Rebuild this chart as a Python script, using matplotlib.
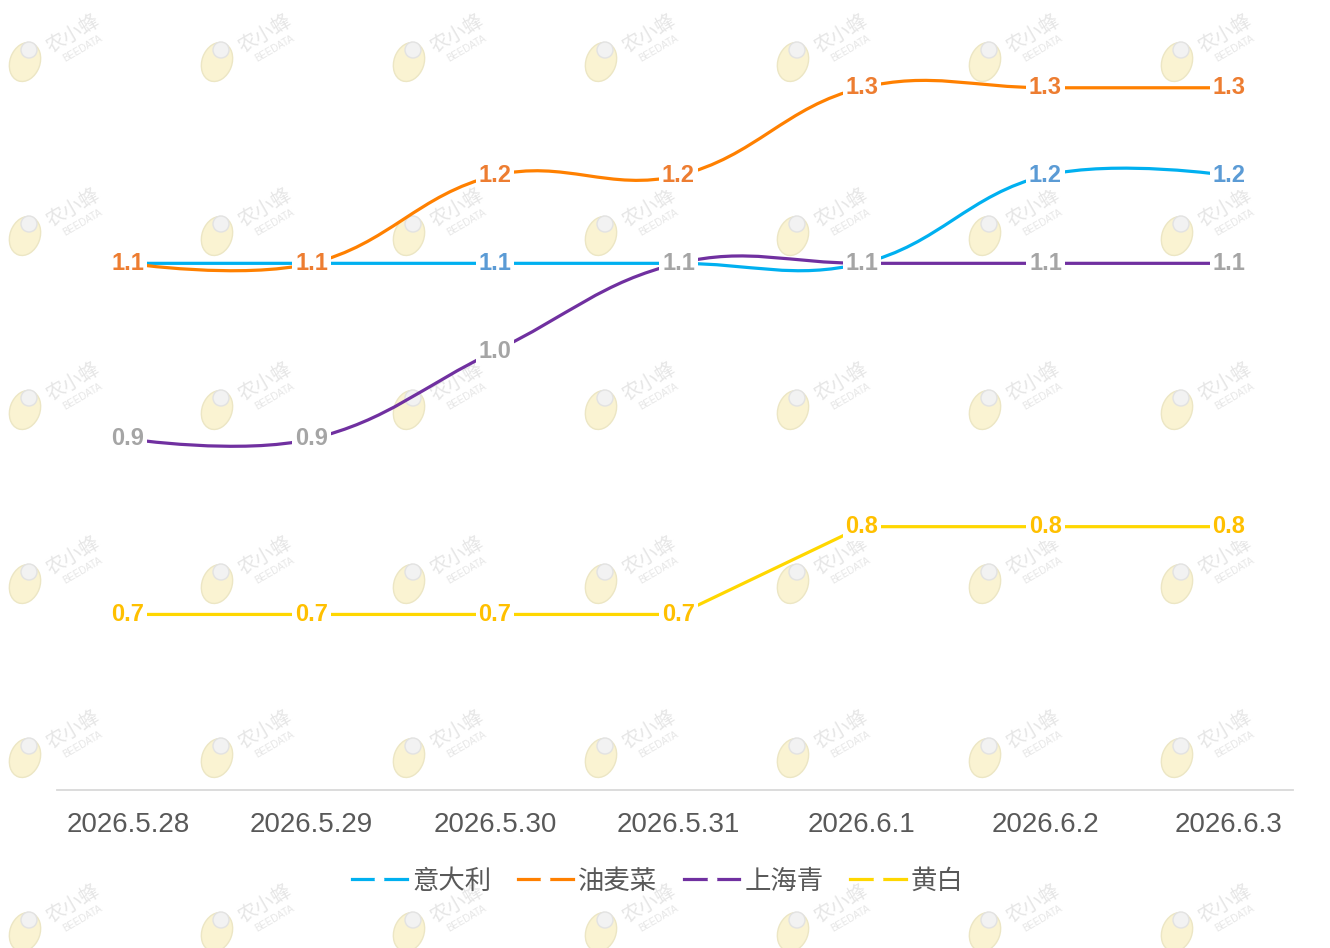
import matplotlib
matplotlib.use("Agg")
import matplotlib.pyplot as plt
from matplotlib.lines import Line2D
from matplotlib.path import Path
from matplotlib.patches import PathPatch, Ellipse
import numpy as np

plt.rcParams["font.family"] = ["Liberation Sans", "Noto Sans CJK SC", "DejaVu Sans"]

dates = ["2026.5.28", "2026.5.29", "2026.5.30", "2026.5.31", "2026.6.1", "2026.6.2", "2026.6.3"]
series_names = ["意大利", "油麦菜", "上海青", "黄白"]
yidali = [1.1, 1.1, 1.1, 1.1, 1.1, 1.2, 1.2]
youmaicai = [1.1, 1.1, 1.2, 1.2, 1.3, 1.3, 1.3]
shanghaiqing = [0.9, 0.9, 1.0, 1.1, 1.1, 1.1, 1.1]
huangbai = [0.7, 0.7, 0.7, 0.7, 0.8, 0.8, 0.8]

line_colors = ["#00b0f0", "#ff8000", "#7030a0", "#ffd700"]
label_colors = ["#5b9bd5", "#ed7d31", "#a5a5a5", "#ffc000"]
smoothness = [0.4, 0.4, 0.4, 0.0]   # 黄白 is drawn as straight segments

# pixel scale of the original chart, used for the echarts-like smoothing
SX, SY = 183.5, 877.5


def smooth_path(values, smooth=0.5):
    pts = np.array([[i * SX, v * SY] for i, v in enumerate(values)])
    n = len(pts)
    verts = [pts[0]]
    codes = [Path.MOVETO]
    cp0 = pts[0]
    for i in range(1, n):
        p = pts[i]
        if i == n - 1:
            cp1 = p
            nxt_cp0 = p
        else:
            prev, nxt = pts[i - 1], pts[i + 1]
            v = nxt - prev
            d0 = np.hypot(*(p - prev))
            d1 = np.hypot(*(nxt - p))
            r = d1 / (d0 + d1)
            cp1 = p - v * smooth * (1 - r)
            nxt_cp0 = p + v * smooth * r
        verts += [cp0, cp1, p]
        codes += [Path.CURVE4] * 3
        cp0 = nxt_cp0
    verts = np.array(verts) / np.array([SX, SY])
    return Path(verts, codes)


fig = plt.figure(figsize=(13.3, 9.48), dpi=100)

# faint watermark layer
bg = fig.add_axes([0, 0, 1, 1], zorder=0)
bg.set_xlim(0, 1330)
bg.set_ylim(948, 0)
bg.axis("off")
for row in range(6):
    for col in range(7):
        x0 = 25 + col * 192
        y0 = 58 + row * 174
        bg.add_patch(Ellipse((x0, y0 + 4), 30, 40, angle=20, facecolor="#faf3d2",
                             edgecolor="#ece6c4", lw=1))
        bg.add_patch(Ellipse((x0 + 4, y0 - 8), 16, 16, facecolor="#f2f2f2",
                             edgecolor="#e2e2e2", lw=1))
        bg.text(x0 + 48, y0 - 24, "农小蜂", fontsize=14, color="#e6e6e6",
                rotation=30, ha="center", va="center")
        bg.text(x0 + 58, y0 - 10, "BEEDATA", fontsize=7, color="#e6e6e6",
                rotation=30, ha="center", va="center")

ax = fig.add_axes([57 / 1330, 1 - 790 / 948, (1293 - 57) / 1330, 790 / 948], zorder=1)
ax.patch.set_alpha(0)

all_series = [yidali, youmaicai, shanghaiqing, huangbai]
for vals, c, sm in zip(all_series, line_colors, smoothness):
    ax.add_patch(PathPatch(smooth_path(vals, sm), facecolor="none", edgecolor=c,
                           lw=2.3, capstyle="butt", zorder=2))

for k, (vals, lc) in enumerate(zip(all_series, label_colors)):
    for i, v in enumerate(vals):
        ax.text(i, v, f"{v:.1f}", color=lc, fontsize=17, fontweight="bold",
                ha="center", va="center", zorder=3 + k,
                bbox=dict(boxstyle="square,pad=0.12", facecolor="white",
                          edgecolor="none"))

ax.set_xlim(-0.387, 6.349)
ax.set_ylim(0.5, 1.4)
ax.set_yticks([])
ax.set_xticks(range(len(dates)))
ax.set_xticklabels(dates, fontsize=20, color="#595959")
ax.tick_params(axis="x", length=0, pad=16)
for s in ["top", "left", "right"]:
    ax.spines[s].set_visible(False)
ax.spines["bottom"].set_color("#d9d9d9")
ax.spines["bottom"].set_linewidth(1.3)

handles = [Line2D([0], [0], color=c, lw=2.3, marker="o", markersize=6,
                  markerfacecolor="white", markeredgecolor="white")
           for c in line_colors]
fig.legend(handles, series_names, loc="center", bbox_to_anchor=(0.4944, 0.0705),
           ncol=4, frameon=False, fontsize=19, labelcolor="#595959",
           handlelength=2.1, handletextpad=0.2, columnspacing=1.0)

fig.savefig("out.png", dpi=100)
